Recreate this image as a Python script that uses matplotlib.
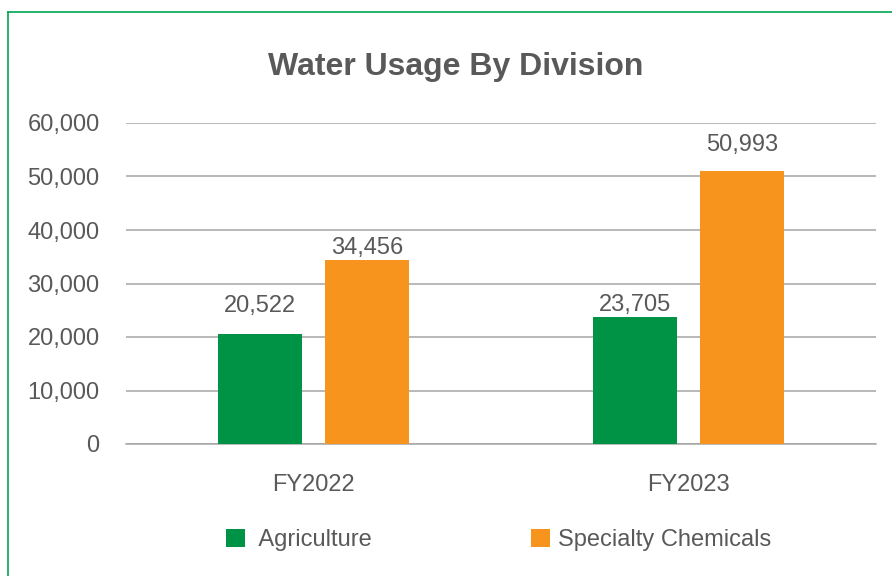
import matplotlib
matplotlib.use("Agg")
import matplotlib.pyplot as plt
from matplotlib.lines import Line2D
from matplotlib.ticker import FuncFormatter

years = ["FY2022", "FY2023"]
agriculture = [20522, 23705]
specialty = [34456, 50993]
series_names = [" Agriculture", "Specialty Chemicals"]

GREEN = "#009245"
ORANGE = "#F7941D"
TEXT = "#595959"
GRID = "#A6A6A6"

plt.rcParams["font.family"] = ["Liberation Sans", "DejaVu Sans"]

fig = plt.figure(figsize=(8.92, 5.76), dpi=100)
ax = fig.add_axes([126 / 892, 1 - 444 / 576, 750 / 892, 321 / 576])

x = range(len(years))
w = 0.2227
off = 0.1423
b1 = ax.bar([i - off for i in x], agriculture, w, color=GREEN, label=series_names[0], zorder=3)
b2 = ax.bar([i + off for i in x], specialty, w, color=ORANGE, label=series_names[1], zorder=3)

# label offsets in pixels above the bar tops (as placed in the original)
lab_px = [[28, 12], [12, 26]]
for bars, vals, offs in [(b1, agriculture, lab_px[0]), (b2, specialty, lab_px[1])]:
    for rect, v, o in zip(bars, vals, offs):
        ax.annotate(f"{v:,}", (rect.get_x() + rect.get_width() / 2, v),
                    xytext=(0, o * 72 / 100), textcoords="offset points",
                    ha="center", va="center", fontsize=17, color=TEXT)

ax.set_xlim(-0.5, 1.5)
ax.set_ylim(0, 60000)
ax.set_yticks(range(0, 60001, 10000))
ax.yaxis.set_major_formatter(FuncFormatter(lambda v, p: f"{int(v):,}"))
ax.set_xticks(list(x))
ax.set_xticklabels(years)
ax.grid(axis="y", color=GRID, linewidth=1.1, zorder=0)
for s in ["top", "right", "left"]:
    ax.spines[s].set_visible(False)
ax.spines["bottom"].set_color(GRID)
ax.spines["bottom"].set_linewidth(1.1)
ax.tick_params(axis="both", length=0, labelsize=17, labelcolor=TEXT)
ax.tick_params(axis="y", pad=19)
ax.tick_params(axis="x", pad=21.5)

fig.text(456 / 892, 1 - 67 / 576, "Water Usage By Division", ha="center", va="center",
         fontsize=23, fontweight="bold", color=TEXT)

fig.legend(handles=[b1, b2], loc="center", bbox_to_anchor=(498.5 / 892, 1 - 540 / 576),
           ncol=2, frameon=False, fontsize=17, labelcolor=TEXT,
           handlelength=0.8, handleheight=0.8, handletextpad=0.35, columnspacing=6.75)

# green frame (left and top edges visible)
fig.add_artist(Line2D([8 / 892, 8 / 892], [0, 1 - 12 / 576], color="#00A651", linewidth=1.2))
fig.add_artist(Line2D([8 / 892, 1], [1 - 12 / 576, 1 - 12 / 576], color="#00A651", linewidth=1.2))

fig.savefig("out.png", dpi=100)
